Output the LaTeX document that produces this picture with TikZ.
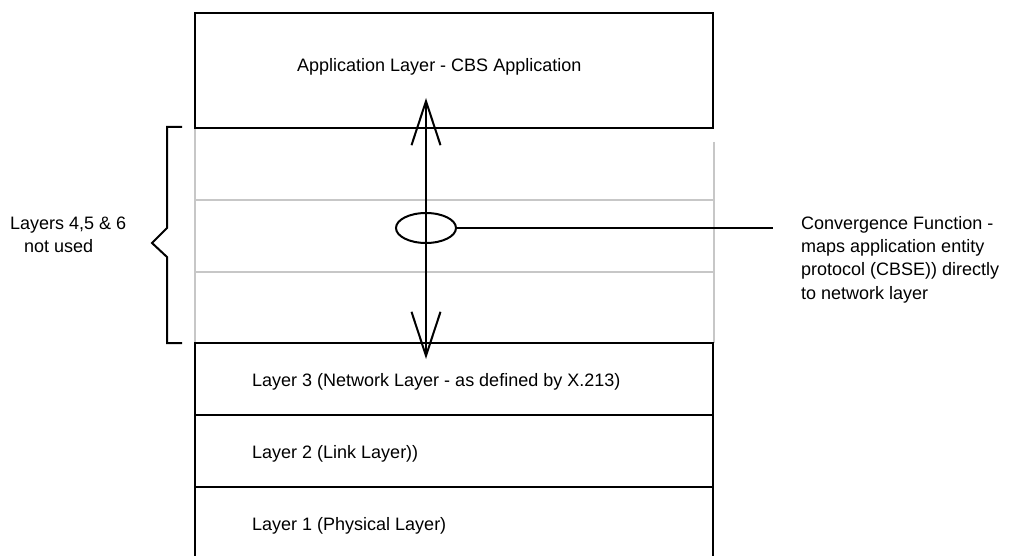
\documentclass[tikz,border=0pt]{standalone}
\usepackage{fontspec}
\setmainfont{Liberation Sans}
\usetikzlibrary{arrows.meta,shapes.geometric}
\begin{document}
\begin{tikzpicture}[x=1pt,y=-1pt,
  box/.style={draw=black,line width=2pt},
  grayline/.style={draw=black!22,line width=2pt},
  lbl/.style={anchor=base west,inner sep=0pt,font=\fontsize{18}{23}\selectfont},
  conn/.style={draw=black,line width=2pt},
  dblarrow/.style={conn,{Straight Barb[length=44pt,width=29pt,line width=2pt]}-{Straight Barb[length=44pt,width=29pt,line width=2pt]}}]
\useasboundingbox (0,0) rectangle (1010,556);
% gray middle region
\draw[grayline] (195,128) -- (195,343);
\draw[grayline] (714,142) -- (714,343);
\draw[grayline] (195,200) -- (714,200);
\draw[grayline] (195,272) -- (714,272);
% top box
\draw[box] (195,128) -- (195,13) -- (713,13) -- (713,128) -- cycle;
% lower layers
\draw[box] (195,560) -- (195,343) -- (713,343) -- (713,560);
\draw[box] (195,415) -- (713,415);
\draw[box] (195,487) -- (713,487);
% brace
\draw[conn,line join=miter] (182,127) -- (167,127) -- (167,228) -- (152,243) -- (167,257) -- (167,343) -- (182,343);
% labels
\node[lbl] (app) at (297,72) {Application Layer - CBS Application};
\node[lbl] (l3) at (252,386) {Layer 3 (Network Layer - as defined by X.213)};
\node[lbl] (l2) at (252,458) {Layer 2 (Link Layer))};
\node[lbl] (l1) at (252,530) {Layer 1 (Physical Layer)};
\node[lbl] (unused1) at (10,230) {Layers 4,5 \& 6};
\node[lbl] (unused2) at (24,253) {not used};
\node[lbl] (c1) at (801,230) {Convergence Function -};
\node[lbl] (c2) at (801,253) {maps application entity};
\node[lbl] (c3) at (801,276) {protocol (CBSE)) directly};
\node[lbl] (c4) at (801,299) {to network layer};
% arrow
\coordinate (atop) at (426,98);
\coordinate (abot) at (426,359);
\draw[dblarrow] (atop) -- (abot);
% convergence ellipse
\node[ellipse,draw,line width=2pt,minimum width=60pt,minimum height=30pt,inner sep=0pt] (conv) at (426,228) {};
\coordinate (cend) at (773,228);
\draw[conn] (conv.east) -- (cend);
\end{tikzpicture}
\end{document}
